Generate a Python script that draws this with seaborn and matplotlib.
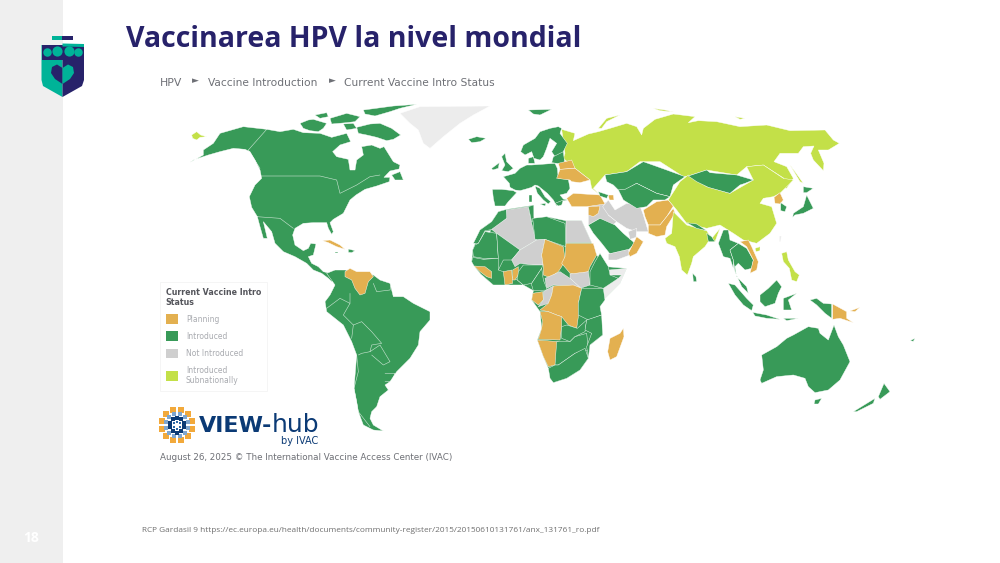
import numpy as np
import matplotlib
matplotlib.use("Agg")
import matplotlib.pyplot as plt
from matplotlib.patches import Patch, Rectangle, Polygon
import seaborn as sns

TITLE = "Vaccinarea HPV la nivel mondial"
CRUMBS = ["HPV", "Vaccine Introduction", "Current Vaccine Intro Status"]
LEGEND_TITLE = "Current Vaccine Intro\nStatus"
STATUS = ["Planning", "Introduced", "Not Introduced", "Introduced\nSubnationally"]
STATUS_COLORS = ["#E3B050", "#389A58", "#CFCFCF", "#C3E048"]
NO_DATA = "#ECECEC"
FOOTER = "RCP Gardasil 9 https://ec.europa.eu/health/documents/community-register/2015/20150610131761/anx_131761_ro.pdf"
DATE_LINE = "August 26, 2025 © The International Vaccine Access Center (IVAC)"
PAGE = "18"

# Map outlines; each is in the pixel frame of one map window.
FRAMES = {"A": (180, 100), "B": (460, 100), "C": (640, 100), "D": (460, 200), "E": (680, 230), "F": (150, 275)}

NORTH_AMERICA = [(70,150),(100,130),(120,100),(190,80),(260,88),(300,95),(340,88),(370,98),(420,100),(455,112),(500,100),(512,125),(480,135),(458,155),(470,170),(505,178),(510,210),(525,210),(530,180),(550,165),(545,140),(575,135),(600,145),(612,140),(640,185),(660,195),(657,207),(630,213),(612,232),(630,232),(628,245),(590,258),(555,268),(528,285),(510,300),(500,320),(490,340),(460,358),(450,368),(460,395),(455,403),(445,385),(440,368),(400,368),(370,370),(345,385),(338,405),(345,435),(370,452),(385,445),(392,430),(408,432),(400,465),(385,470),(395,490),(415,500),(430,515),(450,520),(470,530),(455,545),(445,535),(425,520),(400,510),(380,490),(345,470),(310,455),(285,430),(275,395),(250,365),(262,415),(250,415),(240,380),(232,350),(215,322),(208,290),(225,255),(245,235),(240,210),(225,180),(210,155),(195,148),(160,145),(120,155),(85,165),(40,180),(30,187),(70,165)]
ARCTIC_1 = [(360,70),(385,60),(400,58),(440,70),(430,85),(415,95),(390,92),(370,85)]
ARCTIC_2 = [(405,45),(440,38),(445,50),(420,55)]
ARCTIC_3 = [(450,55),(500,40),(540,50),(525,65),(500,68),(455,72)]
ARCTIC_4 = [(550,30),(640,18),(710,13),(660,25),(630,35),(585,48),(555,42)]
ARCTIC_5 = [(490,72),(520,70),(530,85),(500,90)]
BAFFIN = [(530,82),(570,72),(600,70),(635,85),(662,105),(640,118),(620,122),(590,112),(560,105),(535,100)]
NEWFOUNDLAND = [(635,225),(660,215),(670,240),(645,240)]
CHUKOTKA_TIP = [(35,105),(50,95),(62,105),(80,110),(60,112),(50,120),(38,115)]
GREENLAND = [(660,40),(720,20),(930,18),(880,45),(840,70),(790,110),(750,145),(730,130),(715,90),(690,70)]
ICELAND = [(865,118),(890,110),(918,115),(900,125),(875,128)]
UK = [(965,170),(975,160),(980,185),(1000,205),(985,215),(965,212),(975,195)]
IRELAND = [(935,205),(958,188),(955,205),(938,210)]
CUBA = [(428,422),(450,420),(480,435),(495,448),(470,440),(445,428)]
HISPANIOLA = [(505,447),(525,452),(515,458),(505,457)]
JAMAICA = [(465,455),(475,455),(475,459),(465,459)]
VENEZUELA = [(495,515),(510,505),(530,515),(570,515),(580,530),(565,545),(555,580),(540,585),(525,565),(515,540),(495,530)]

SOUTH_AMERICA = [(530,-5),(555,-15),(585,-15),(670,0),(690,15),(720,25),(730,65),(760,65),(790,85),(840,110),(840,135),(810,170),(805,210),(780,250),(740,290),(720,320),(705,330),(715,345),(690,365),(680,395),(665,410),(660,430),(670,450),(700,468),(670,465),(640,450),(625,410),(620,380),(612,340),(620,240),(605,200),(580,150),(530,110),(525,80),(540,60),(555,30)]
SA_BORDER_1 = [(530,100),(570,70),(600,85)]
SA_BORDER_2 = [(600,55),(600,85),(580,120),(610,150),(635,140),(665,170),(695,205),(665,210),(660,230),(635,235),(625,240)]
SA_BORDER_3 = [(605,190),(610,150)]
SA_BORDER_4 = [(620,240),(625,290),(612,340),(625,410),(660,455)]
SA_BORDER_5 = [(660,230),(690,210),(720,260),(700,270),(665,240)]
SA_BORDER_6 = [(705,295),(735,295),(725,320),(705,320)]
SA_BORDER_7 = [(670,25),(680,50),(720,45),(725,25)]
NA_BORDER_1 = [(260,88),(205,150),(240,205)]
NA_BORDER_2 = [(245,228),(420,228),(470,240),(480,280),(530,255),(570,230),(600,225)]
NA_BORDER_3 = [(230,350),(300,355),(340,385)]

SCANDINAVIA = [(182,155),(190,135),(225,115),(240,95),(270,85),(295,80),(305,85),(300,100),(322,130),(305,165),(285,170),(275,155),(290,130),(270,115),(260,145),(250,170),(240,180),(222,175),(215,155),(195,165)]
DENMARK = [(205,175),(220,170),(225,190),(205,190)]
SVALBARD = [(205,30),(275,28),(240,45),(220,42)]
BALTICS = [(280,170),(310,155),(315,195),(290,190),(275,188)]
CENTRAL_EUROPE = [(130,230),(165,220),(180,205),(200,195),(215,195),(285,190),(292,205),(295,235),(325,238),(330,265),(320,280),(300,285),(310,297),(322,300),(300,305),(290,318),(280,300),(262,280),(235,258),(225,255),(215,262),(195,268),(180,272),(165,270),(150,262),(148,250)]
IBERIA = [(97,268),(125,268),(160,272),(170,278),(145,305),(135,318),(105,318),(100,295)]
ITALY = [(225,258),(240,265),(255,290),(272,305),(265,312),(250,300),(232,280)]
SICILY = [(240,312),(258,310),(255,318)]
SARDINIA = [(208,285),(215,285),(215,305),(208,305)]
GREECE = [(285,310),(310,300),(305,315),(295,318)]
BELARUS = [(295,190),(335,180),(345,205),(300,208)]
UKRAINE = [(290,235),(300,208),(345,205),(390,240),(360,248),(335,245),(330,240)]
TURKEY = [(320,295),(340,280),(420,285),(435,312),(380,320),(335,320)]
CAUCASUS = [(415,275),(445,285),(440,295),(420,288)]
AZERBAIJAN = [(445,285),(460,285),(462,300),(448,300)]
LEVANT = [(385,320),(445,305),(445,345),(470,365),(455,378),(420,355),(385,375)]
IRAQ = [(385,320),(420,318),(415,340),(400,350),(385,345)]
IRAN = [(445,300),(465,330),(500,310),(540,318),(550,345),(565,395),(530,395),(500,385),(470,365),(445,345),(428,320)]
KAZAKHSTAN = [(435,225),(500,215),(550,185),(620,210),(675,230),(640,255),(630,290),(590,280),(560,265),(530,250),(495,270),(475,270),(460,255),(440,245)]
CENTRAL_ASIA = [(475,270),(495,268),(530,250),(560,265),(590,280),(630,290),(615,300),(580,300),(560,320),(530,325),(490,300)]
AFGHANISTAN = [(550,330),(590,305),(625,300),(640,318),(620,350),(600,375),(565,375),(555,350)]
PAKISTAN = [(565,375),(600,375),(620,350),(640,325),(645,340),(620,380),(615,405),(590,410),(565,400)]
SAUDI = [(385,375),(420,355),(465,375),(490,400),(525,430),(505,450),(450,462),(425,430),(400,400)]
UAE = [(505,395),(530,385),(528,412),(510,418)]
YEMEN = [(445,462),(505,448),(510,465),(470,480),(445,480)]
OMAN = [(505,460),(530,410),(550,425),(530,460),(510,470)]
RUSSIA = [(305,88),(345,100),(340,122),(385,102),(415,95),(450,85),(500,70),(530,80),(545,105),(550,85),(585,58),(640,42),(705,50),(685,68),(715,62),(770,65),(840,80),(920,75),(990,92),(1095,90),(1120,120),(1138,130),(1105,150),(1075,150),(1092,190),(1090,212),(1060,180),(1052,160),(1062,138),(1030,140),(1015,160),(960,160),(942,185),(980,200),(1000,235),(980,265),(965,262),(972,235),(910,195),(860,200),(830,225),(740,210),(685,228),(670,230),(600,185),(540,185),(500,215),(435,225),(400,265),(420,285),(395,265),(390,240),(345,205),(310,175),(315,160)]
NOVAYA_ZEMLYA = [(415,85),(440,55),(480,45),(440,65),(425,85)]
ARCTIC_RU_1 = [(580,25),(615,30),(640,36),(600,32)]
ARCTIC_RU_2 = [(825,50),(855,55),(840,58)]

AFRICA_BASE = [(38,150),(60,90),(95,65),(115,35),(140,28),(205,18),(222,15),(222,60),(260,50),(318,62),(365,62),(395,128),(410,165),(440,200),(500,205),(480,250),(430,300),(420,320),(428,405),(390,435),(385,475),(360,510),(320,535),(280,548),(265,505),(250,470),(232,420),(245,385),(240,335),(215,300),(220,272),(190,255),(130,255),(100,255),(62,222),(35,185)]
WESTERN_SAHARA = [(55,130),(75,95),(92,92),(70,128)]
MOROCCO = [(40,130),(60,90),(95,65),(115,35),(140,28),(142,55),(100,88),(75,92),(55,130)]
ALGERIA = [(95,88),(140,55),(140,30),(205,20),(215,70),(222,100),(230,120),(180,150),(110,100)]
TUNISIA = [(205,20),(220,15),(222,60),(215,65)]
LIBYA = [(218,55),(260,50),(315,70),(318,140),(255,118),(225,118)]
EGYPT = [(318,62),(365,62),(395,128),(318,128)]
MAURITANIA = [(55,130),(75,95),(110,100),(115,175),(70,175),(40,170),(38,150),(45,135)]
MALI = [(110,100),(180,150),(155,180),(130,180),(115,210),(70,178),(115,175)]
NIGER = [(155,180),(180,150),(230,120),(255,118),(245,165),(250,195),(225,195),(180,190),(165,200)]
CHAD = [(255,118),(310,140),(315,180),(305,200),(295,215),(270,233),(250,225),(250,200),(245,165)]
SUDAN = [(318,130),(400,130),(410,165),(390,200),(385,215),(350,225),(330,220),(305,190),(315,170)]
SOUTH_SUDAN = [(330,222),(385,215),(390,255),(360,265),(330,235)]
CAR = [(255,235),(300,215),(330,235),(360,262),(340,258),(280,255),(260,265)]
WEST_COAST = [(38,172),(70,178),(115,175),(115,210),(130,215),(172,240),(190,255),(130,255),(100,255),(62,222),(42,198),(35,185)]
GUINEA = [(42,198),(75,200),(95,215),(95,235),(80,230),(60,215)]
GHANA = [(130,215),(155,210),(158,250),(135,255)]
BENIN = [(158,210),(175,200),(175,225),(165,240),(158,240)]
NIGERIA = [(172,240),(175,215),(190,195),(225,195),(248,195),(245,205),(215,250),(190,255)]
CAMEROON = [(215,250),(245,205),(250,240),(262,270),(220,272),(215,255)]
GABON = [(218,280),(248,275),(250,300),(235,315),(215,300)]
CONGO = [(250,275),(280,258),(275,285),(265,310),(235,320),(250,300)]
DRC = [(280,258),(340,255),(365,265),(355,310),(355,350),(350,385),(325,375),(305,350),(290,345),(265,335),(240,330),(265,310),(275,285)]
ANGOLA = [(240,335),(265,335),(290,345),(305,350),(305,378),(300,420),(235,418),(245,385),(248,365)]
NAMIBIA = [(232,420),(295,425),(285,495),(265,500),(250,470)]
ZAMBIA = [(305,380),(320,375),(352,385),(380,360),(375,395),(345,410),(330,425),(305,415)]
SOUTHERN_BLOB = [(290,425),(330,425),(345,410),(380,400),(385,450),(345,460),(295,495),(285,495)]
EAST_AFRICA = [(365,265),(430,265),(435,300),(420,320),(425,345),(385,360),(355,345),(355,310)]
MOZAMBIQUE = [(380,360),(425,345),(428,405),(390,435),(385,475),(380,440),(395,400),(375,390)]
SOUTH_AFRICA = [(265,505),(285,495),(295,495),(345,460),(375,445),(385,475),(360,510),(320,535),(280,548),(270,535)]
ETHIOPIA = [(390,215),(405,185),(420,160),(445,200),(450,225),(475,235),(430,265),(390,255)]
SOMALIA = [(430,300),(430,265),(475,235),(485,225),(450,225),(448,210),(500,205),(480,250)]
MADAGASCAR = [(490,385),(492,410),(470,470),(450,480),(443,455),(450,415),(480,400)]

CHINA = [(85,300),(120,245),(145,225),(200,260),(270,280),(340,240),(320,200),(370,195),(430,235),(460,240),(420,280),(400,290),(370,295),(360,310),(395,320),(410,370),(390,400),(350,430),(310,420),(280,400),(240,375),(200,385),(140,370),(110,330)]
MONGOLIA = [(145,228),(200,210),(210,218),(290,225),(340,240),(315,250),(300,255),(270,280),(205,262),(170,245)]
INDIA = [(75,415),(95,400),(100,335),(140,375),(200,392),(215,415),(240,385),(225,425),(205,425),(195,440),(160,470),(155,490),(142,525),(125,510),(118,470),(105,440),(80,430)]
NEPAL = [(140,368),(170,372),(200,392),(170,385)]
BANGLADESH = [(200,400),(215,410),(225,425),(205,425)]
HOKKAIDO = [(490,260),(520,265),(500,278),(490,278)]
HONSHU = [(500,285),(520,325),(490,340),(465,345),(458,352),(460,340),(490,320)]
NORTH_KOREA = [(402,292),(420,278),(430,300),(420,312),(405,310)]
SOUTH_KOREA = [(422,308),(440,320),(435,335),(422,332)]
SAKHALIN = [(450,195),(465,215),(490,250),(480,245)]
TAIWAN = [(418,408),(424,408),(422,425),(418,425)]

MYANMAR = [(115,40),(130,0),(145,0),(150,30),(175,40),(150,60),(160,90),(160,115),(150,85),(130,80)]
INDOCHINA = [(150,60),(175,40),(200,55),(220,90),(215,115),(195,120),(175,100),(165,110),(170,140),(200,170),(205,190),(185,170),(165,125),(160,90)]
VIETNAM = [(180,35),(205,30),(215,50),(235,95),(230,120),(210,130),(215,110),(220,90),(200,50)]
SRI_LANKA = [(38,130),(48,140),(50,155),(40,155)]
SUMATRA = [(145,160),(165,165),(200,205),(220,225),(215,242),(190,225),(165,195)]
JAVA = [(218,247),(260,255),(300,268),(260,265),(225,258)]
SUNDA = [(310,265),(355,265),(320,272)]
BORNEO = [(240,195),(265,175),(290,150),(305,170),(295,190),(285,220),(255,230),(240,215)]
SULAWESI = [(310,205),(350,190),(325,210),(335,240),(310,240)]
WEST_PAPUA = [(390,210),(410,205),(430,220),(455,222),(455,265),(435,250),(410,225)]
PNG = [(458,222),(500,245),(500,265),(520,278),(480,265),(458,268)]
NEW_BRITAIN = [(510,243),(540,232),(525,245)]
PHILIPPINES = [(305,70),(320,65),(325,90),(345,125),(358,135),(350,155),(335,150),(328,115),(310,95)]
HAINAN = [(225,55),(240,50),(240,62),(228,65)]
AUSTRALIA = [(245,375),(290,350),(320,325),(340,315),(385,290),(415,295),(420,310),(445,330),(462,285),(475,320),(490,345),(510,395),(480,450),(445,480),(405,488),(385,470),(375,445),(340,435),(290,440),(245,460),(240,450),(250,420)]
TASMANIA = [(405,510),(425,505),(415,522),(402,522)]
NZ_NORTH = [(595,500),(612,460),(630,485),(600,508)]
NZ_SOUTH = [(520,545),(585,505),(580,520),(530,545)]
FIJI = [(690,332),(705,325),(700,334)]

P, I, N, S = STATUS_COLORS
LAYERS = [
    (NO_DATA, "A", GREENLAND), (I, "D", AFRICA_BASE), ("#FFFFFF", "D", WESTERN_SAHARA), (NO_DATA, "D", SOMALIA), (NO_DATA, "C", TAIWAN),
    (I, "A", NORTH_AMERICA), (I, "A", ARCTIC_1), (I, "A", ARCTIC_2), (I, "A", ARCTIC_3), (I, "A", ARCTIC_4), (I, "A", ARCTIC_5), (I, "A", BAFFIN),
    (I, "A", NEWFOUNDLAND), (S, "A", CHUKOTKA_TIP), (I, "A", ICELAND), (I, "A", UK), (I, "A", IRELAND),
    (P, "A", CUBA), (I, "A", HISPANIOLA), (I, "A", JAMAICA), (I, "F", SOUTH_AMERICA), (P, "A", VENEZUELA),
    (S, "B", RUSSIA), (S, "B", NOVAYA_ZEMLYA), (S, "B", ARCTIC_RU_1), (S, "B", ARCTIC_RU_2),
    (I, "B", SCANDINAVIA), (I, "B", DENMARK), (I, "B", SVALBARD), (I, "B", BALTICS), (I, "B", CENTRAL_EUROPE), (I, "B", IBERIA),
    (I, "B", ITALY), (I, "B", SICILY), (I, "B", SARDINIA), (I, "B", GREECE), (P, "B", BELARUS), (P, "B", UKRAINE), (N, "B", LEVANT), (P, "B", TURKEY), (I, "B", CAUCASUS),
    (P, "B", AZERBAIJAN), (P, "B", IRAQ), (N, "B", IRAN), (I, "B", KAZAKHSTAN), (I, "B", CENTRAL_ASIA),
    (P, "B", AFGHANISTAN), (P, "B", PAKISTAN), (I, "B", SAUDI), (N, "B", UAE), (N, "B", YEMEN), (P, "B", OMAN),
    (I, "D", MOROCCO), (N, "D", ALGERIA), (I, "D", TUNISIA), (I, "D", LIBYA), (N, "D", EGYPT), (I, "D", MAURITANIA),
    (I, "D", MALI), (N, "D", NIGER), (P, "D", CHAD), (P, "D", SUDAN), (N, "D", SOUTH_SUDAN), (N, "D", CAR),
    (I, "D", WEST_COAST), (P, "D", GUINEA), (P, "D", GHANA), (P, "D", BENIN), (I, "D", NIGERIA), (I, "D", CAMEROON),
    (P, "D", GABON), (N, "D", CONGO), (P, "D", DRC), (P, "D", ANGOLA), (P, "D", NAMIBIA), (I, "D", ZAMBIA),
    (I, "D", SOUTHERN_BLOB), (I, "D", EAST_AFRICA), (I, "D", MOZAMBIQUE), (I, "D", SOUTH_AFRICA), (I, "D", ETHIOPIA),
    (P, "D", MADAGASCAR),
    (S, "C", CHINA), (I, "C", MONGOLIA), (S, "C", INDIA), (I, "C", NEPAL), (I, "C", BANGLADESH), (I, "C", HOKKAIDO),
    (I, "C", HONSHU), (P, "C", NORTH_KOREA), (I, "C", SOUTH_KOREA), (S, "C", SAKHALIN),
    (I, "E", MYANMAR), (I, "E", INDOCHINA), (P, "E", VIETNAM), (I, "E", SRI_LANKA), (I, "E", SUMATRA), (I, "E", JAVA),
    (I, "E", SUNDA), (I, "E", BORNEO), (I, "E", SULAWESI), (I, "E", WEST_PAPUA), (P, "E", PNG), (P, "E", NEW_BRITAIN),
    (S, "E", PHILIPPINES), (S, "E", HAINAN), (I, "E", AUSTRALIA), (I, "E", TASMANIA), (I, "E", NZ_NORTH), (I, "E", NZ_SOUTH),
    (I, "E", FIJI),
]
BORDERS = [("F", SA_BORDER_1), ("F", SA_BORDER_2), ("F", SA_BORDER_3), ("F", SA_BORDER_4), ("F", SA_BORDER_5),
           ("F", SA_BORDER_6), ("F", SA_BORDER_7), ("A", NA_BORDER_1), ("A", NA_BORDER_2), ("A", NA_BORDER_3)]

sns.set_theme(style="white")
plt.rcParams["font.family"] = ["DejaVu Sans"]
palette = sns.color_palette(STATUS_COLORS)

fig = plt.figure(figsize=(10, 5.63), dpi=100, facecolor="white")
ax = fig.add_axes([0, 0, 1, 1])
ax.set_xlim(0, 1000)
ax.set_ylim(563, 0)
ax.axis("off")

def to_px(frame, pts):
    ox, oy = FRAMES[frame]
    a = np.array(pts, dtype=float)
    return ox + a[:, 0] / 3, oy + a[:, 1] / 3

for color, frame, pts in LAYERS:
    x, y = to_px(frame, pts)
    edge = color if color == "#FFFFFF" else "white"
    ax.fill(x, y, facecolor=color, edgecolor=edge, linewidth=0.3, joinstyle="round", zorder=2)
for frame, pts in BORDERS:
    x, y = to_px(frame, pts)
    ax.plot(x, y, color="white", lw=0.4, alpha=0.75, zorder=3)

# sidebar and page number
ax.add_patch(Rectangle((0, 0), 62.5, 563, facecolor="#EFEFEF", edgecolor="none", zorder=1))
ax.text(31, 538, PAGE, color="white", fontsize=10, fontweight="bold", family="Open Sans", ha="center", va="center", zorder=5)

# shield logo
NAVY, TEAL = "#27226A", "#00B398"
ax.add_patch(Rectangle((52, 36), 10, 3.5, fc=TEAL, ec="none", zorder=4))
ax.add_patch(Rectangle((62, 36), 11, 3.5, fc=NAVY, ec="none", zorder=4))
SHIELD_LEFT = [(41.5, 45), (62.5, 45), (62.5, 97), (43, 86), (41.5, 80)]
SHIELD_RIGHT = [(62.5, 45), (84, 45), (84, 80), (82, 86), (62.5, 97)]
ax.add_patch(Polygon(SHIELD_LEFT, fc=TEAL, ec="none", zorder=4))
ax.add_patch(Polygon(SHIELD_RIGHT, fc=NAVY, ec="none", zorder=4))
ax.add_patch(Polygon([(41.5, 45), (62.5, 45), (62.5, 60), (41.5, 60)], fc=NAVY, ec="none", zorder=5))
ax.add_patch(Polygon([(62.5, 43.5), (84, 44), (84, 47), (62.5, 46.5)], fc=TEAL, ec="none", zorder=5))
for cx, cy, r in [(47, 51.5, 3), (56.5, 50.5, 3.6), (68.5, 50.5, 3.6), (78, 51.5, 3)]:
    ax.scatter([cx], [cy], s=(r * 1.44 * 2) ** 2 / 2.0, color=TEAL, linewidths=0, zorder=6)
ax.add_patch(Polygon([(62.5, 68), (57, 64.5), (52, 67), (51, 73), (55, 79), (62.5, 84)], fc=NAVY, ec="none", zorder=6))
ax.add_patch(Polygon([(62.5, 68), (68, 64.5), (73, 67), (74, 73), (70, 79), (62.5, 84)], fc=TEAL, ec="none", zorder=6))

# title and breadcrumb
ax.text(126, 39.5, TITLE, color=NAVY, fontsize=20.5, fontweight="bold", family="Open Sans", ha="left", va="center", zorder=5)
GREY_TXT = "#6E7076"
ax.text(160, 82.5, CRUMBS[0], color=GREY_TXT, fontsize=7.8, ha="left", va="center")
ax.text(195.5, 80.5, "►", color=GREY_TXT, fontsize=6.5, ha="center", va="center")
ax.text(208.5, 82.5, CRUMBS[1], color=GREY_TXT, fontsize=7.7, ha="left", va="center")
ax.text(332, 80.5, "►", color=GREY_TXT, fontsize=6.5, ha="center", va="center")
ax.text(344.5, 82.5, CRUMBS[2], color=GREY_TXT, fontsize=7.7, ha="left", va="center")

# legend
handles = [Patch(facecolor=c, edgecolor="none") for c in palette]
leg = ax.legend(handles, STATUS, title=LEGEND_TITLE, loc="upper left", bbox_to_anchor=(0.160, 1 - 282 / 563),
                bbox_transform=ax.transAxes, alignment="left", fontsize=5.5, title_fontproperties={"size": 5.7, "weight": "bold"},
                frameon=True, edgecolor="#F4F4F4", facecolor="white", fancybox=False, framealpha=1,
                handlelength=1.6, handleheight=1.6, handletextpad=1.05, labelspacing=0.95, borderpad=0.75,
                borderaxespad=0, labelcolor="#A9ABB0")
leg.get_title().set_color("#55565C")
leg.get_frame().set_linewidth(0.6)
leg.set_zorder(4)

# VIEW-hub block
ICON_X, ICON_Y = 177, 425
for radius, count, col, size in [(15.5, 12, "#F2A93B", 15), (11, 12, "#7FA6CF", 11), (7.5, 10, "#0B3A75", 7), (3.5, 6, "#2F6AA8", 4)]:
    ang = np.arange(count) * 2 * np.pi / count + np.pi / count
    sns.scatterplot(x=ICON_X + radius * np.cos(ang), y=ICON_Y + radius * np.sin(ang), color=col, s=size,
                    marker="s", linewidth=0, ax=ax, legend=False, zorder=5)
ax.set_xlim(0, 1000)
ax.set_ylim(563, 0)
ax.text(199, 425.5, "VIEW-", color="#0B3A75", fontsize=16, fontweight="bold", ha="left", va="center")
ax.text(272, 425, "hub", color="#0B3A75", fontsize=18, ha="left", va="center")
ax.text(318, 441, "by IVAC", color="#0B3A75", fontsize=7, ha="right", va="center")
ax.text(160, 458, DATE_LINE, color=GREY_TXT, fontsize=6.3, ha="left", va="center")

# footer
ax.text(142, 531, FOOTER, color="#6E6E6E", fontsize=5.95, family="Open Sans", ha="left", va="center")

fig.savefig("out.png", dpi=100, facecolor="white")
